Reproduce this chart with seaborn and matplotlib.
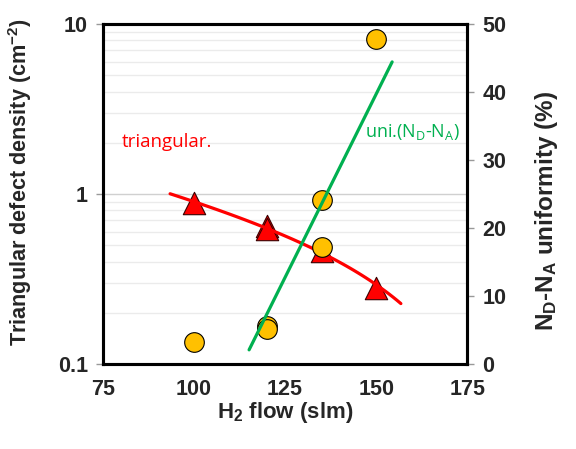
import matplotlib
matplotlib.use("Agg")
import matplotlib.pyplot as plt
import seaborn as sns
import numpy as np
import pandas as pd
from matplotlib.ticker import FixedLocator, NullFormatter

# data
tri_flow = [100, 120, 120, 135, 150]
tri_density = [0.89, 0.65, 0.62, 0.46, 0.28]

uni_flow = [100, 120, 120, 135, 135, 150]
uni_value = [3.2, 5.6, 5.1, 24.1, 17.2, 47.8]

# trend line ranges
tri_fit_range = [93.4, 156.8]
uni_line_flow = [115.1, 154.4]
uni_line_value = [2.1, 44.4]

x_ticks = [75, 100, 125, 150, 175]
left_ticks = [0.1, 1, 10]
left_ticklabels = ["0.1", "1", "10"]
right_ticks = [0, 10, 20, 30, 40, 50]

sns.set_style("white")
plt.rcParams['font.family'] = ['Liberation Sans', 'DejaVu Sans']
plt.rcParams['mathtext.default'] = 'regular'

TICK_FS = 15.5

fig = plt.figure(figsize=(5.76, 4.49), dpi=100)
ax = fig.add_axes([0.179, 0.189, 0.632, 0.758])

# logarithmic trend (y = a + b ln x) of triangular density
coef = np.polyfit(np.log(tri_flow), tri_density, 1)
fit_x = np.linspace(tri_fit_range[0], tri_fit_range[1], 60)
fit_df = pd.DataFrame({"flow": fit_x,
                       "density": np.polyval(coef, np.log(fit_x))})

tri_df = pd.DataFrame({"flow": tri_flow, "density": tri_density})
sns.scatterplot(data=tri_df, x="flow", y="density", ax=ax, marker="^", s=260,
                color="#FF0000", edgecolor="#3a0000", linewidth=0.8, zorder=3)
sns.lineplot(data=fit_df, x="flow", y="density", ax=ax, color="#FF0000",
             linewidth=2.3, zorder=4)

ax.set_yscale("log")
ax.set_ylim(0.1, 10)
ax.set_xlim(75, 175)
ax.set_xticks(x_ticks)
ax.set_yticks(left_ticks)
ax.set_yticklabels(left_ticklabels)
ax.yaxis.set_minor_locator(FixedLocator(
    [m * 10.0 ** e for e in (-1, 0) for m in range(2, 10)]))
ax.yaxis.set_minor_formatter(NullFormatter())
ax.grid(True, axis="y", which="minor", color="#EBEBEB", linewidth=1.0)
ax.grid(True, axis="y", which="major", color="#D0D0D0", linewidth=1.0)
ax.set_axisbelow(True)
ax.tick_params(axis="y", which="minor", length=0)
ax.tick_params(axis="both", which="major", direction="out", length=5,
               color="#999999", width=1, labelsize=TICK_FS, pad=6)
for lab in ax.get_xticklabels() + ax.get_yticklabels():
    lab.set_fontweight("bold")

ax.set_xlabel("H$_2$ flow (slm)", fontsize=16, fontweight="bold")
ax.set_ylabel("Triangular defect density (cm$^{-2}$)", fontsize=15.6,
              fontweight="bold")
ax.xaxis.set_label_coords(0.5, -0.105)
ax.yaxis.set_label_coords(-0.19, 0.535)

ax.text(0.052, 0.653, "triangular.", transform=ax.transAxes, color="#FF0000",
        fontsize=13.5, family="Open Sans", va="center", ha="left")

# right axis: uniformity
ax2 = ax.twinx()
uni_df = pd.DataFrame({"flow": uni_flow, "value": uni_value})
sns.scatterplot(data=uni_df, x="flow", y="value", ax=ax2, marker="o", s=200,
                color="#FFC000", edgecolor="#000000", linewidth=0.8, zorder=3)
line_df = pd.DataFrame({"flow": uni_line_flow, "value": uni_line_value})
sns.lineplot(data=line_df, x="flow", y="value", ax=ax2, color="#00B050",
             linewidth=2.3, zorder=4)
ax2.set_ylim(0, 50)
ax2.set_xlim(75, 175)
ax2.set_yticks(right_ticks)
ax2.tick_params(axis="y", direction="out", length=5, color="#999999", width=1,
                labelsize=TICK_FS, pad=6)
for lab in ax2.get_yticklabels():
    lab.set_fontweight("bold")
ax2.set_ylabel("N$_D$-N$_A$ uniformity (%)", fontsize=17.5,
               fontweight="bold")
ax2.yaxis.set_label_coords(1.18, 0.45)
ax2.text(0.72, 0.682, "uni.(N$_D$-N$_A$)", transform=ax2.transAxes,
         color="#00B050", fontsize=13, family="Open Sans", va="center",
         ha="left")

for a in (ax, ax2):
    for sp in a.spines.values():
        sp.set_visible(True)
        sp.set_color("black")
        sp.set_linewidth(2.2)

fig.savefig("out.png", dpi=100)
plt.close(fig)
